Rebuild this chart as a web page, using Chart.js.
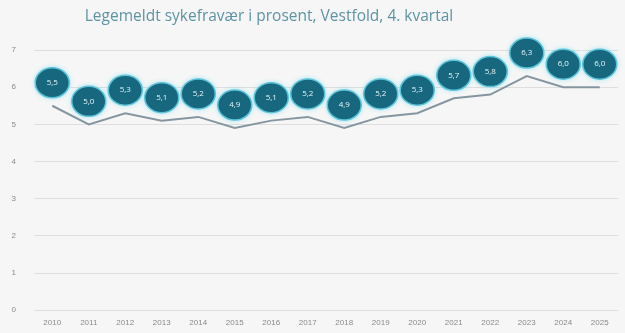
<!DOCTYPE html>
<html>
<head>
<meta charset="utf-8">
<script src="https://cdn.jsdelivr.net/npm/chart.js@4/dist/chart.umd.min.js"></script>
<style>
    html, body { margin: 0; padding: 0; background: #f6f6f6; }
    #wrap { width: 625px; height: 333px; }
</style>
</head>
<body>
<div id="wrap"><canvas id="chart"></canvas></div>
<script>
// Legemeldt sykefravær, Vestfold, 4. kvartal
const years = ['2010', '2011', '2012', '2013', '2014', '2015', '2016', '2017',
    '2018', '2019', '2020', '2021', '2022', '2023', '2024', '2025'];
const sickLeave = [5.5, 5.0, 5.3, 5.1, 5.2, 4.9, 5.1, 5.2, 4.9, 5.2, 5.3, 5.7, 5.8, 6.3, 6.0, 6.0];
const yTicks = [0, 1, 2, 3, 4, 5, 6, 7];
const titleText = 'Legemeldt sykefravær i prosent, Vestfold, 4. kvartal';

// Title sits a bit left of centre in the original, so draw it by hand
const titlePlugin = {
    id: 'titlePlugin',
    afterDraw(chart) {
        const ctx = chart.ctx;
        ctx.save();
        ctx.fillStyle = '#5e93a3';
        ctx.font = '15.5px "Open Sans", sans-serif';
        ctx.textAlign = 'center';
        ctx.textBaseline = 'middle';
        ctx.fillText(titleText, 269, 17);
        ctx.restore();
    }
};

// Draw the round value badges above each point
const bubbleLabels = {
    id: 'bubbleLabels',
    afterDatasetsDraw(chart) {
        const ctx = chart.ctx;
        const meta = chart.getDatasetMeta(0);
        meta.data.forEach((pt, i) => {
            const x = pt.x;
            const y = pt.y - 23;
            ctx.save();
            ctx.shadowColor = 'rgba(120, 220, 240, 0.9)';
            ctx.shadowBlur = 5;
            ctx.beginPath();
            ctx.ellipse(x, y, 17, 15, 0, 0, Math.PI * 2);
            ctx.fillStyle = '#17677e';
            ctx.fill();
            ctx.shadowBlur = 0;
            ctx.lineWidth = 1.5;
            ctx.strokeStyle = '#5cc3d8';
            ctx.stroke();
            ctx.fillStyle = '#e8f4f7';
            ctx.font = '8px "Open Sans", sans-serif';
            ctx.textAlign = 'center';
            ctx.textBaseline = 'middle';
            ctx.fillText(sickLeave[i].toFixed(1).replace('.', ','), x, y);
            ctx.restore();
        });
    }
};

new Chart(document.getElementById('chart'), {
    type: 'line',
    data: {
        labels: years,
        datasets: [{
            data: sickLeave,
            borderColor: '#8596a0',
            borderWidth: 2,
            pointRadius: 0,
            tension: 0,
            fill: false
        }]
    },
    options: {
        responsive: true,
        maintainAspectRatio: false,
        animation: false,
        layout: { padding: { left: 4, right: 7, top: 50, bottom: 0 } },
        plugins: {
            legend: { display: false },
            tooltip: { enabled: false },
            title: { display: false }
        },
        scales: {
            x: {
                offset: true,
                grid: { display: false },
                border: { display: false },
                ticks: { color: '#8a8a8a', font: { size: 8 }, maxRotation: 0, autoSkip: false, padding: 0 }
            },
            y: {
                min: 0,
                max: 7,
                afterBuildTicks(axis) { axis.ticks = yTicks.map(v => ({ value: v })); },
                afterFit(axis) { axis.width = 30; },
                grid: { color: '#dedede', drawTicks: false },
                border: { display: false },
                ticks: { color: '#8a8a8a', font: { size: 8 }, padding: 18 }
            }
        }
    },
    plugins: [bubbleLabels, titlePlugin]
});
</script>
</body>
</html>
